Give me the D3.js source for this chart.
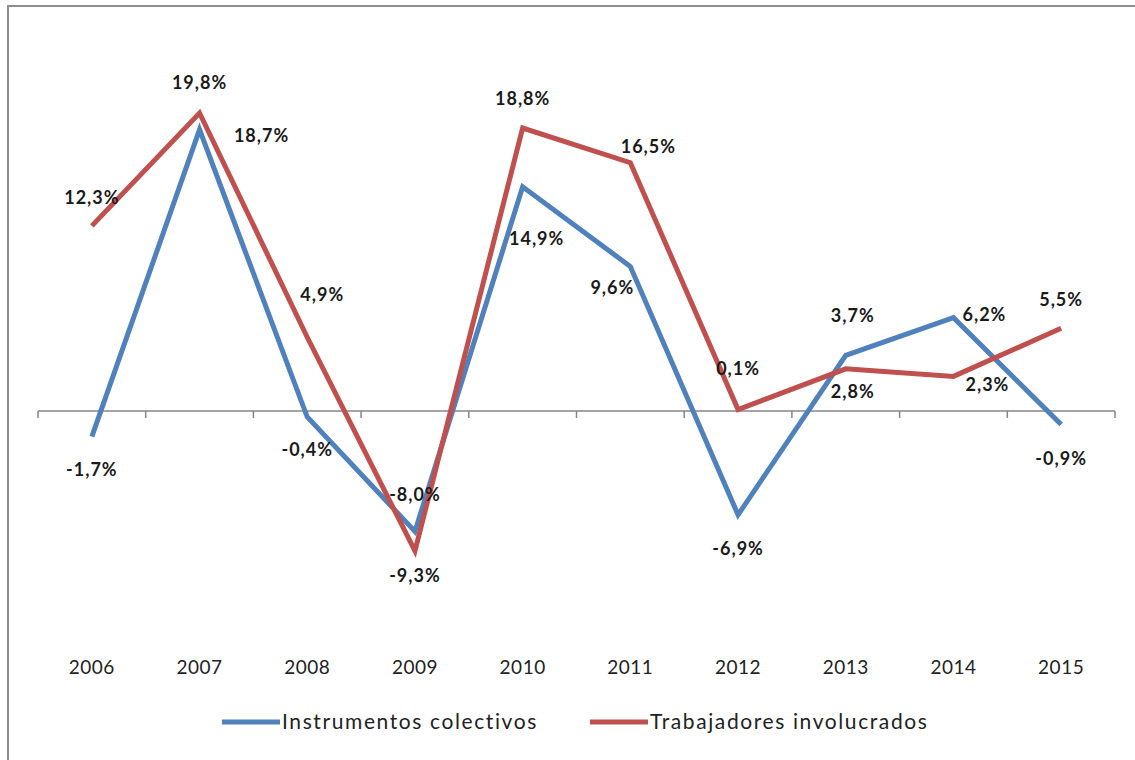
<!DOCTYPE html>
<html>
<head>
<meta charset="utf-8">
<script src="https://cdn.jsdelivr.net/npm/d3@7"></script>
<style>
  html, body { margin: 0; padding: 0; background: #fff; }
  svg { display: block; }
</style>
</head>
<body>
<svg id="chart" width="1135" height="760"></svg>
<script>
// ---- data ----
const years = ["2006","2007","2008","2009","2010","2011","2012","2013","2014","2015"];
const instrumentos = [-1.7, 18.7, -0.4, -8.0, 14.9, 9.6, -6.9, 3.7, 6.2, -0.9];
const trabajadores = [12.3, 19.8, 4.9, -9.3, 18.8, 16.5, 0.1, 2.8, 2.3, 5.5];
const seriesNames = ["Instrumentos colectivos", "Trabajadores involucrados"];

// ---- label placement (pixel offsets from each point) ----
const instrLabelDx = [0, 62, 0, 0, 14, -18, 0, 7, 31, 0];
const instrLabelDy = [33, 6, 33, -37, 52, 21, 34, -40, -3, 34];
const trabLabelDx = [0, 0, 15, 0, 0, 18, 0, 7, 34, 0];
const trabLabelDy = [-28, -30, -43, 25, -29, -16, -41, 23, 8, -29];

const colors = ["#4F81BD", "#C0504D"];

const svg = d3.select("#chart");

// outer border
svg.append("rect")
  .attr("x", 8).attr("y", 6).attr("width", 1140).attr("height", 780)
  .attr("fill", "#fff").attr("stroke", "#8c8c8c").attr("stroke-width", 2);

const x = d3.scaleBand().domain(years).range([38, 1115]).padding(0);
const y = d3.scaleLinear().domain([-15, 25]).range([411 + 15 * 15.05, 411 - 25 * 15.05]);

const cx = d => x(d) + x.bandwidth() / 2;

// category axis at zero
const axisY = y(0);
const axis = svg.append("g").attr("transform", `translate(0,${axisY})`);
axis.append("line")
  .attr("x1", x.range()[0]).attr("x2", x.range()[1])
  .attr("y1", 0).attr("y2", 0)
  .attr("stroke", "#868686").attr("stroke-width", 1.5);
const tickPos = years.map(d => x(d)).concat([x.range()[1]]);
axis.selectAll("line.tick").data(tickPos).join("line")
  .attr("class", "tick")
  .attr("x1", d => d).attr("x2", d => d)
  .attr("y1", 0).attr("y2", 7)
  .attr("stroke", "#868686").attr("stroke-width", 1.5);

// year labels at bottom
svg.append("g").selectAll("text").data(years).join("text")
  .attr("x", d => cx(d)).attr("y", 674)
  .attr("text-anchor", "middle")
  .attr("font-family", "Lato")
  .attr("font-size", 19)
  .attr("letter-spacing", 0.5)
  .attr("fill", "#222")
  .text(d => d);

const line = d3.line().x((d, i) => cx(years[i])).y(d => y(d));

const series = [
  { values: instrumentos, dx: instrLabelDx, dy: instrLabelDy, color: colors[0] },
  { values: trabajadores, dx: trabLabelDx, dy: trabLabelDy, color: colors[1] }
];

series.forEach(s => {
  svg.append("path")
    .datum(s.values)
    .attr("d", line)
    .attr("fill", "none")
    .attr("stroke", s.color)
    .attr("stroke-width", 5)
    .attr("stroke-linejoin", "miter")
    .attr("stroke-linecap", "butt");
});

const fmt = v => d3.format(".1f")(v).replace("\u2212", "-").replace(".", ",") + "%";
series.forEach(s => {
  svg.append("g").selectAll("text").data(s.values).join("text")
    .attr("x", (d, i) => cx(years[i]) + s.dx[i])
    .attr("y", (d, i) => y(d) + s.dy[i])
    .attr("dy", "0.35em")
    .attr("text-anchor", "middle")
    .attr("font-family", "Lato")
    .attr("font-weight", "bold")
    .attr("font-size", 18)
    .attr("letter-spacing", 1)
    .attr("fill", "#1a1a1a")
    .text(d => fmt(d));
});

// legend
const legendX = [222, 590];
const legend = svg.append("g");
seriesNames.forEach((name, i) => {
  legend.append("line")
    .attr("x1", legendX[i]).attr("x2", legendX[i] + 58)
    .attr("y1", 722).attr("y2", 722)
    .attr("stroke", colors[i]).attr("stroke-width", 5);
  legend.append("text")
    .attr("x", legendX[i] + 60).attr("y", 722)
    .attr("dy", "0.35em")
    .attr("font-family", "Lato")
    .attr("font-size", 21)
    .attr("letter-spacing", 1.6)
    .attr("fill", "#222")
    .text(name);
});
</script>
</body>
</html>
